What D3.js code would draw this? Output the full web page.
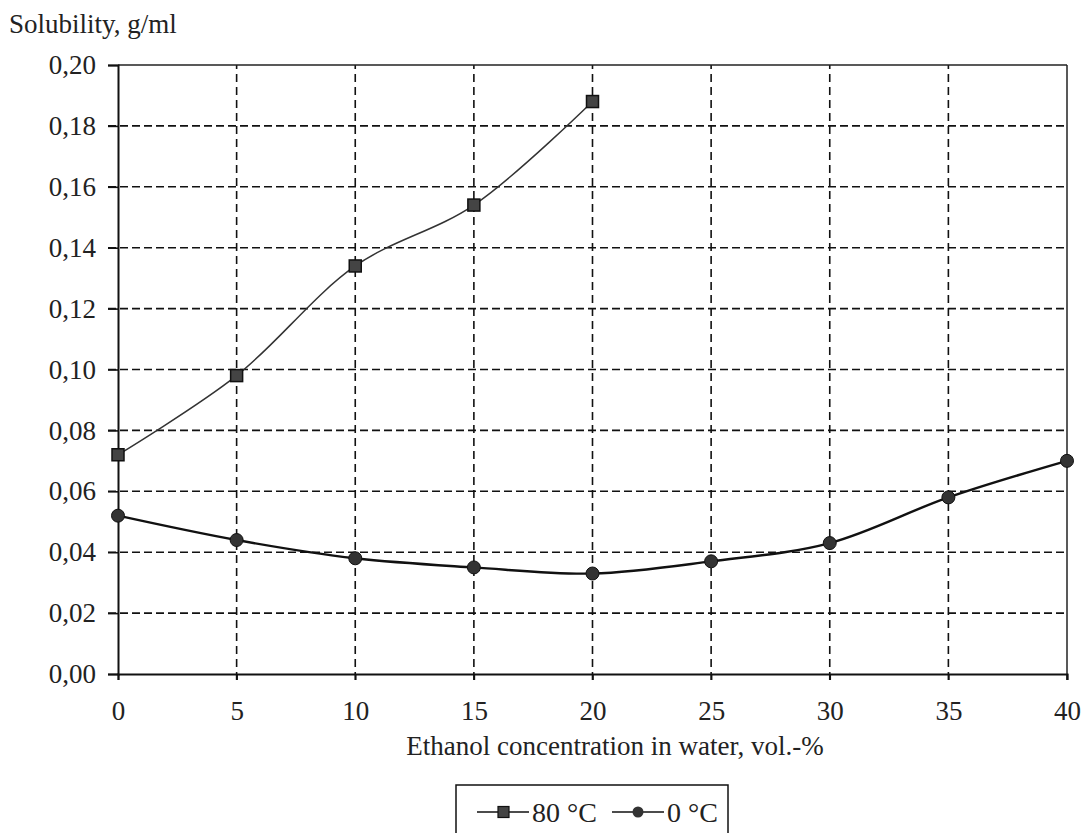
<!DOCTYPE html>
<html>
<head>
<meta charset="utf-8">
<script src="https://cdn.jsdelivr.net/npm/d3@7"></script>
<style>
  body { margin: 0; background: #fff; }
  svg { display: block; font-family: "Liberation Serif", "DejaVu Serif", serif; }
</style>
</head>
<body>
<div id="chart"></div>
<script>
const w = 1083;
const h = 833;

const concentrations = [0, 5, 10, 15, 20, 25, 30, 35, 40];
const hot80 = [0.072, 0.098, 0.134, 0.154, 0.188];
const cold0 = [0.052, 0.044, 0.038, 0.035, 0.033, 0.037, 0.043, 0.058, 0.070];
const yTicks = [0, 0.02, 0.04, 0.06, 0.08, 0.10, 0.12, 0.14, 0.16, 0.18, 0.20];
const seriesNames = ['80 °C', '0 °C'];

const margin = { top: 65, right: 16, bottom: 159, left: 118 };

const svg = d3.select('#chart').append('svg').attr('width', w).attr('height', h);

const xScale = d3.scaleLinear().domain([0, 40]).range([margin.left, w - margin.right]);
const yScale = d3.scaleLinear().domain([0, 0.2]).range([h - margin.bottom, margin.top]);

const fmt = d => d3.format('.2f')(d).replace('.', ',');

// grid
svg.append('g')
   .selectAll('line')
   .data(yTicks.slice(1, -1))
   .enter()
   .append('line')
   .attr('x1', xScale(0) - 10).attr('x2', xScale(40))
   .attr('y1', d => yScale(d)).attr('y2', d => yScale(d))
   .attr('stroke', '#111').attr('stroke-width', 1.6)
   .attr('stroke-dasharray', '8,4');

svg.append('g')
   .selectAll('line')
   .data(concentrations.slice(1, -1))
   .enter()
   .append('line')
   .attr('x1', d => xScale(d)).attr('x2', d => xScale(d))
   .attr('y1', yScale(0) + 6).attr('y2', yScale(0.2))
   .attr('stroke', '#111').attr('stroke-width', 1.6)
   .attr('stroke-dasharray', '8,5');

// frame top/right
svg.append('line')
   .attr('x1', xScale(0)).attr('x2', xScale(40))
   .attr('y1', yScale(0.2)).attr('y2', yScale(0.2))
   .attr('stroke', '#222').attr('stroke-width', 1.5);
svg.append('line')
   .attr('x1', xScale(40)).attr('x2', xScale(40))
   .attr('y1', yScale(0.2)).attr('y2', yScale(0) + 6)
   .attr('stroke', '#222').attr('stroke-width', 1.5);

// axes
const yAxis = d3.axisLeft(yScale).tickValues(yTicks).tickFormat(fmt).tickSize(10).tickPadding(12);
const xAxis = d3.axisBottom(xScale).tickValues(concentrations).tickSize(6).tickPadding(40);

const gy = svg.append('g').attr('transform', `translate(${margin.left},0)`).call(yAxis);
const gx = svg.append('g').attr('transform', `translate(0,${h - margin.bottom})`).call(xAxis);

[gx, gy].forEach(g => {
    g.select('.domain').attr('stroke', '#111').attr('stroke-width', 2);
    g.selectAll('.tick line').attr('stroke', '#111').attr('stroke-width', 1.6);
    g.selectAll('.tick text').attr('font-size', 27).attr('fill', '#222')
     .attr('font-family', '"Liberation Serif", serif');
});
gx.selectAll('.tick text').attr('dy', '0');

svg.append('text')
   .attr('x', 9).attr('y', 33)
   .attr('font-size', 27).attr('fill', '#222')
   .text('Solubility, g/ml');

svg.append('text')
   .attr('x', 615).attr('y', 755)
   .attr('text-anchor', 'middle')
   .attr('font-size', 27).attr('fill', '#222')
   .text('Ethanol concentration in water, vol.-%');

// lines
const line = d3.line()
               .x(d => xScale(d[0]))
               .y(d => yScale(d[1]))
               .curve(d3.curveCatmullRom.alpha(0.5));

const hotPts = hot80.map((v, i) => [concentrations[i], v]);
const coldPts = cold0.map((v, i) => [concentrations[i], v]);

svg.append('path').datum(hotPts).attr('d', line)
   .attr('fill', 'none').attr('stroke', '#333').attr('stroke-width', 1.5);
svg.append('path').datum(coldPts).attr('d', line)
   .attr('fill', 'none').attr('stroke', '#111').attr('stroke-width', 2.4);

svg.append('g').selectAll('rect')
   .data(hotPts).enter().append('rect')
   .attr('x', d => xScale(d[0]) - 6).attr('y', d => yScale(d[1]) - 6)
   .attr('width', 12).attr('height', 12)
   .attr('fill', '#444').attr('stroke', '#111').attr('stroke-width', 1.5);

svg.append('g').selectAll('circle')
   .data(coldPts).enter().append('circle')
   .attr('cx', d => xScale(d[0])).attr('cy', d => yScale(d[1]))
   .attr('r', 6.5)
   .attr('fill', '#333').attr('stroke', '#111').attr('stroke-width', 1);

// legend
const legend = svg.append('g').attr('transform', 'translate(456,785)');
legend.append('rect')
      .attr('x', 0).attr('y', 0).attr('width', 272).attr('height', 60)
      .attr('fill', '#fff').attr('stroke', '#111').attr('stroke-width', 1.5);

const items = [
    { name: seriesNames[0], x: 21, shape: 'square' },
    { name: seriesNames[1], x: 156, shape: 'circle' }
];
items.forEach(it => {
    const g = legend.append('g').attr('transform', `translate(${it.x},27)`);
    g.append('line').attr('x1', 0).attr('x2', 52).attr('y1', 0).attr('y2', 0)
     .attr('stroke', '#111').attr('stroke-width', 1.6);
    if (it.shape === 'square') {
        g.append('rect').attr('x', 21).attr('y', -5.5).attr('width', 11).attr('height', 11)
         .attr('fill', '#444').attr('stroke', '#111').attr('stroke-width', 1.2);
    } else {
        g.append('circle').attr('cx', 26).attr('cy', 0).attr('r', 5.5)
         .attr('fill', '#333');
    }
    g.append('text').attr('x', 55).attr('y', 10)
     .attr('font-size', 28).attr('fill', '#222')
     .text(it.name);
});
</script>
</body>
</html>
